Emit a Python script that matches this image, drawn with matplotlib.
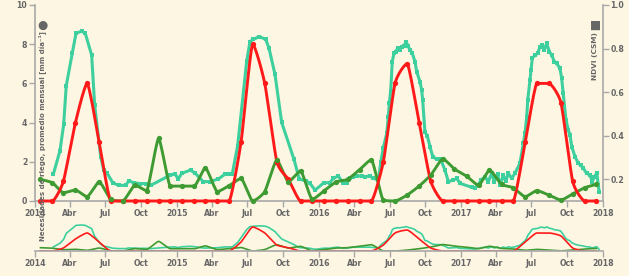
import numpy as np
import pandas as pd
import matplotlib
matplotlib.use('Agg')
import matplotlib.pyplot as plt
import matplotlib.dates as mdates

# ---------------- data ----------------
months = pd.date_range('2014-01-01', periods=48, freq='MS') + pd.Timedelta(days=14)

riego = [0, 0, 1.0, 4.0, 6.0, 3.0, 0, 0, 0, 0, 0, 0,
         0, 0, 0, 0, 0, 3.0, 8.0, 6.0, 2.0, 1.1, 0, 0,
         0, 0, 0, 0, 0, 2.0, 6.0, 7.0, 4.0, 1.0, 0, 0,
         0, 0, 0, 0, 0, 3.0, 6.0, 6.0, 5.0, 1.0, 0, 0]

verde = [1.1, 0.93, 0.42, 0.56, 0.22, 0.98, 0.08, 0.0, 0.81, 0.53, 3.19, 0.76,
         0.76, 0.76, 1.7, 0.48, 0.78, 1.15, 0.0, 0.48, 2.08, 0.98, 1.54, 0.08,
         0.53, 0.98, 1.1, 1.6, 2.1, 0.05, 0.0, 0.3, 0.76, 1.32, 2.15, 1.63,
         1.27, 0.8, 1.58, 0.85, 0.68, 0.22, 0.53, 0.3, 0.05, 0.36, 0.68, 0.85]

ndvi_t = [2014.129, 2014.176, 2014.202, 2014.220, 2014.263, 2014.289, 2014.329, 2014.354,
          2014.399, 2014.420, 2014.463, 2014.484, 2014.509, 2014.547, 2014.589, 2014.639,
          2014.660, 2014.697, 2014.739, 2014.784, 2014.815, 2014.953, 2014.986, 2015.009,
          2015.033, 2015.096, 2015.127, 2015.185, 2015.232, 2015.291, 2015.338, 2015.368,
          2015.389, 2015.427, 2015.491, 2015.514, 2015.537, 2015.580, 2015.625, 2015.648,
          2015.690, 2015.737, 2015.824, 2015.861, 2015.908, 2015.937, 2015.972, 2016.035,
          2016.077, 2016.101, 2016.136, 2016.171, 2016.195, 2016.218, 2016.237, 2016.265,
          2016.301, 2016.324, 2016.359, 2016.382, 2016.418, 2016.435, 2016.453, 2016.477,
          2016.488, 2016.495, 2016.505, 2016.516, 2016.528, 2016.540, 2016.554, 2016.568,
          2016.582, 2016.599, 2016.613, 2016.627, 2016.641, 2016.657, 2016.676, 2016.688,
          2016.711, 2016.723, 2016.730, 2016.746, 2016.763, 2016.782, 2016.801, 2016.829,
          2016.857, 2016.887, 2016.911, 2016.946, 2016.970, 2016.993, 2017.075, 2017.099,
          2017.120, 2017.141, 2017.169, 2017.192, 2017.216, 2017.235, 2017.258, 2017.275,
          2017.298, 2017.315, 2017.333, 2017.357, 2017.380, 2017.415, 2017.439, 2017.451,
          2017.463, 2017.470, 2017.486, 2017.493, 2017.502, 2017.521, 2017.540, 2017.556,
          2017.573, 2017.587, 2017.603, 2017.622, 2017.639, 2017.657, 2017.674, 2017.697,
          2017.709, 2017.720, 2017.739, 2017.756, 2017.768, 2017.780, 2017.803, 2017.826,
          2017.843, 2017.861, 2017.885, 2017.908, 2017.925, 2017.939, 2017.956, 2017.967,
          2017.972]
ndvi_v = [0.223, 0.331, 0.452, 0.629, 0.781, 0.870, 0.880, 0.870,
          0.770, 0.541, 0.303, 0.242, 0.227, 0.184, 0.172, 0.172,
          0.192, 0.184, 0.180, 0.180, 0.172, 0.219, 0.224, 0.201,
          0.227, 0.242, 0.228, 0.189, 0.189, 0.201, 0.223, 0.224,
          0.224, 0.353, 0.743, 0.832, 0.842, 0.855, 0.842, 0.801,
          0.682, 0.461, 0.291, 0.201, 0.192, 0.181, 0.150, 0.184,
          0.184, 0.204, 0.215, 0.181, 0.184, 0.204, 0.212, 0.215,
          0.215, 0.212, 0.215, 0.204, 0.196, 0.278, 0.345, 0.411,
          0.488, 0.548, 0.607, 0.740, 0.778, 0.786, 0.801, 0.793,
          0.809, 0.812, 0.832, 0.812, 0.793, 0.778, 0.740, 0.694,
          0.648, 0.610, 0.564, 0.418, 0.398, 0.349, 0.304, 0.291,
          0.291, 0.242, 0.189, 0.196, 0.204, 0.181, 0.163, 0.158,
          0.175, 0.196, 0.212, 0.189, 0.227, 0.189, 0.224, 0.173,
          0.219, 0.190, 0.227, 0.204, 0.227, 0.273, 0.365, 0.411,
          0.488, 0.564, 0.656, 0.702, 0.755, 0.770, 0.778, 0.809,
          0.816, 0.793, 0.824, 0.786, 0.770, 0.740, 0.732, 0.709,
          0.663, 0.594, 0.472, 0.426, 0.403, 0.349, 0.304, 0.273,
          0.265, 0.250, 0.227, 0.219, 0.189, 0.212, 0.227, 0.173,
          0.143]

tick_dates = pd.date_range('2014-01-01', '2018-01-01', freq='QS')
tick_names = {1: None, 4: 'Abr', 7: 'Jul', 10: 'Oct'}

# ---------------- style ----------------
BG = '#FDF6E3'
RED = '#FF1A1A'
TEAL = '#3DD09E'
GREEN = '#3E9B32'
AX = '#A8A8A8'
TXT = '#666666'
FS = 5.6

plt.rcParams['font.family'] = ['DejaVu Sans']
plt.rcParams['font.weight'] = 'bold'

W, H = 629, 276
fig = plt.figure(figsize=(W / 100, H / 100), dpi=100, facecolor=BG)


def smooth(xs, ys, a=0.18, n=14):
    xs = np.asarray(xs, float)
    ys = np.asarray(ys, float)
    m = len(xs)
    L = [(xs[i], ys[i]) for i in range(m)]
    R = [(xs[i], ys[i]) for i in range(m)]
    for i in range(1, m - 1):
        x0, y0 = xs[i - 1], ys[i - 1]
        x1, y1 = xs[i], ys[i]
        x2, y2 = xs[i + 1], ys[i + 1]
        lx = (1 - a) * x1 + a * x0
        ly = (1 - a) * y1 + a * y0
        rx = (1 - a) * x1 + a * x2
        ry = (1 - a) * y1 + a * y2
        if lx != rx:
            d = y1 - ry - (x1 - rx) * (ly - ry) / (lx - rx)
            ly += d
            ry += d
        if ly > y0 and ly > y1:
            ly = max(y0, y1); ry = 2 * y1 - ly
        elif ly < y0 and ly < y1:
            ly = min(y0, y1); ry = 2 * y1 - ly
        if ry > y1 and ry > y2:
            ry = max(y1, y2); ly = 2 * y1 - ry
        elif ry < y1 and ry < y2:
            ry = min(y1, y2); ly = 2 * y1 - ry
        L[i] = (lx, ly)
        R[i] = (rx, ry)
    t = np.linspace(0, 1, n)[:, None]
    out = [np.array([[xs[0], ys[0]]])]
    for i in range(m - 1):
        P0 = np.array([xs[i], ys[i]])
        P1 = np.array(R[i])
        P2 = np.array(L[i + 1])
        P3 = np.array([xs[i + 1], ys[i + 1]])
        seg = ((1 - t) ** 3) * P0 + 3 * ((1 - t) ** 2) * t * P1 + 3 * (1 - t) * t ** 2 * P2 + t ** 3 * P3
        out.append(seg[1:])
    arr = np.vstack(out)
    return arr[:, 0], arr[:, 1]


mx = mdates.date2num(months.to_pydatetime())
base = mdates.date2num(pd.Timestamp('2014-01-01').to_pydatetime())
nx = base + (np.array(ndvi_t) - 2014.0) * 365.25
rx_s, ry_s = smooth(mx, riego)
gx_s, gy_s = smooth(mx, verde)

xlo = mdates.date2num(pd.Timestamp('2014-01-01').to_pydatetime())
xhi = mdates.date2num(pd.Timestamp('2018-01-01').to_pydatetime())

tick_pos = mdates.date2num(tick_dates.to_pydatetime())
tick_lab = [str(d.year) if d.month == 1 else tick_names[d.month] for d in tick_dates]


def style_x(ax):
    ax.set_xlim(xlo, xhi)
    ax.set_xticks(tick_pos)
    ax.set_xticklabels(tick_lab)
    ax.tick_params(axis='x', direction='out', length=4, width=1, color=AX,
                   labelcolor=TXT, labelsize=FS, pad=1.5)


# ---------------- main chart ----------------
L0, R0 = 35, 603
ax = fig.add_axes([L0 / W, 1 - 201 / H, (R0 - L0) / W, 196 / H])
ax2 = ax.twinx()
ax.set_zorder(ax2.get_zorder() + 1)
ax.patch.set_visible(False)
ax2.patch.set_visible(False)

ax2.plot(nx, ndvi_v, color=TEAL, lw=2.2, marker='s', ms=3.4, mew=0,
         solid_joinstyle='round', clip_on=False)
ax.plot(gx_s, gy_s, color=GREEN, lw=2.1, solid_capstyle='round', clip_on=False, zorder=2)
ax.plot(rx_s, ry_s, color=RED, lw=2.1, solid_capstyle='round', clip_on=False, zorder=3)
ax.plot(mx, riego, ls='none', marker='o', ms=3.8, mew=0, color=RED, clip_on=False, zorder=4)
ax.plot(mx, verde, ls='none', marker='o', ms=3.8, mew=0, color=GREEN, clip_on=False, zorder=4)

ax.set_ylim(0, 10)
ax.set_yticks([0, 2, 4, 6, 8, 10])
ax2.set_ylim(0.1, 1.0)
ax2.set_yticks([0.2, 0.4, 0.6, 0.8, 1.0])
ax2.set_yticklabels(['0.2', '0.4', '0.6', '0.8', '1.0'])
style_x(ax)
for a in (ax, ax2):
    for s in a.spines.values():
        s.set_visible(False)
ax.spines['left'].set_visible(True)
ax.spines['bottom'].set_visible(True)
ax2.spines['right'].set_visible(True)
for s in (ax.spines['left'], ax.spines['bottom'], ax2.spines['right']):
    s.set_color(AX)
    s.set_linewidth(1.2)
    s.set_zorder(0.5)
ax.tick_params(axis='y', direction='out', length=4, width=1, color=AX,
               labelcolor=TXT, labelsize=FS, pad=1.5)
ax2.tick_params(axis='y', direction='out', length=4, width=1, color=AX,
                labelcolor=TXT, labelsize=FS, pad=1.5)
for lab in ax.get_xticklabels() + ax.get_yticklabels() + ax2.get_yticklabels():
    lab.set_fontweight('bold')

# ---------------- range selector ----------------
rax = fig.add_axes([L0 / W, 1 - 251 / H, (R0 - L0) / W, 30 / H])
rax2 = rax.twinx()
rax.set_zorder(rax2.get_zorder() + 1)
rax.patch.set_visible(False)
rax2.patch.set_visible(False)
rax2.plot(nx, ndvi_v, color=TEAL, lw=1.2)
rax.plot(gx_s, gy_s, color=GREEN, lw=1.2)
rax.plot(rx_s, ry_s, color=RED, lw=1.2)
rax.set_ylim(0, 10)
rax2.set_ylim(0.1, 1.0)
style_x(rax)
rax.set_yticks([])
rax2.set_yticks([])
for a in (rax, rax2):
    for s in a.spines.values():
        s.set_visible(False)
rax.spines['bottom'].set_visible(True)
rax.spines['bottom'].set_color(AX)
rax.spines['bottom'].set_linewidth(1.2)
for lab in rax.get_xticklabels():
    lab.set_fontweight('bold')

# ---------------- axis titles ----------------
fig.text(42 / W, 1 - 25 / H, '\u25CF', color=TXT, fontsize=8.5, ha='center', va='center', zorder=10)
fig.text(42.5 / W, 1 - 31 / H, 'Necesidades de riego, promedio mensual [mm d\u00eda\u207b\u00b9]',
         rotation=90, color=TXT, fontsize=5.0, fontweight='bold', ha='center', va='top', zorder=10)
fig.text(595.5 / W, 1 - 25 / H, '\u25A0', color=TXT, fontsize=8.5, ha='center', va='center', zorder=10)
fig.text(595.5 / W, 1 - 32 / H, 'NDVI (CSM)', rotation=90, color=TXT, fontsize=5.3,
         fontweight='bold', ha='center', va='top', zorder=10)

fig.savefig('out.png', dpi=100, facecolor=BG)
